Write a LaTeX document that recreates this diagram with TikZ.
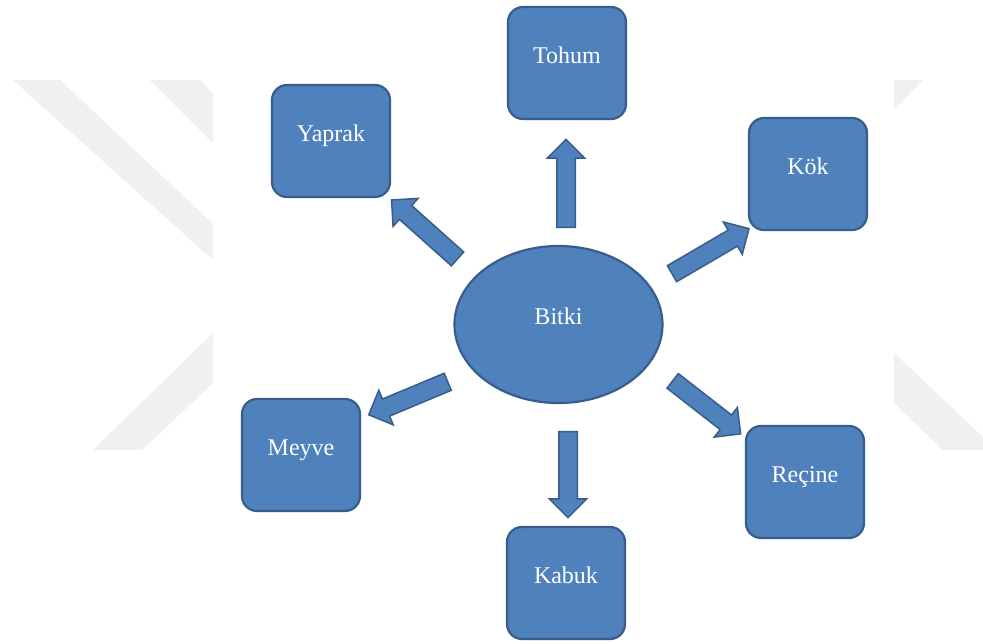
\documentclass[tikz,border=0pt]{standalone}
\usepackage{fontspec}
\setmainfont{Liberation Serif}
\usetikzlibrary{shapes.geometric,shapes.arrows,calc}
\definecolor{boxfill}{HTML}{4F81BD}
\definecolor{boxline}{HTML}{385D8A}
\definecolor{wmark}{HTML}{F0F0F0}
\tikzset{
  partbox/.style={draw=boxline, fill=boxfill, line width=2.2pt, rounded corners=15pt,
    minimum width=118pt, minimum height=112pt, inner sep=0pt,
    text=white, font=\fontsize{24}{29}\selectfont, text height=10pt, text depth=10pt},
  centre/.style={ellipse, draw=boxline, fill=boxfill, line width=2.2pt,
    minimum width=208pt, minimum height=157pt, inner sep=0pt,
    text=white, font=\fontsize{24}{29}\selectfont, text height=10pt, text depth=10pt},
  blockarr/.style={single arrow, draw=boxline, fill=boxfill, line width=1.5pt,
    inner sep=8.5pt, single arrow head extend=9.5pt, single arrow tip angle=90,
    single arrow head indent=0pt},
  wm/.style={fill=wmark, draw=none}
}
\newcommand\blkarrow[2]{%
  \path let \p1=($(#2)-(#1)$), \n1={atan2(\y1,\x1)}, \n2={veclen(\x1,\y1)} in
    node[blockarr, minimum height=\n2, rotate=\n1] at ($(#1)!0.5!(#2)$) {};}
\begin{document}
\begin{tikzpicture}[x=1pt,y=-1pt]
\useasboundingbox (0,0) rectangle (983,643);
\fill[white] (0,0) rectangle (983,643);
% watermark
\fill[wm] (13,80) -- (60,80) -- (213,224) -- (213,260) -- cycle;
\fill[wm] (150,80) -- (200,80) -- (213,93) -- (213,143) -- cycle;
\fill[wm] (93,450) -- (142,450) -- (213,383) -- (213,333) -- cycle;
\fill[wm] (894,80) -- (923,80) -- (894,110) -- cycle;
\fill[wm] (894,353) -- (983,437) -- (983,450) -- (943,450) -- (894,403) -- cycle;
% nodes
\node[centre] (bitki) at (558.5,324.5) {Bitki};
\node[partbox] (tohum) at (567,63) {Tohum};
\node[partbox] (yaprak) at (331,141) {Yaprak};
\node[partbox] (kok) at (808,174) {Kök};
\node[partbox] (meyve) at (301,455) {Meyve};
\node[partbox] (recine) at (805,482) {Reçine};
\node[partbox] (kabuk) at (566,583) {Kabuk};
% arrow ends
\coordinate (t1) at (566,232); \coordinate (h1) at (566,144);
\coordinate (t2) at (461,262); \coordinate (h2) at (395,203);
\coordinate (t3) at (668,276); \coordinate (h3) at (745,231);
\coordinate (t4) at (452,380); \coordinate (h4) at (373,413);
\coordinate (t5) at (568,427); \coordinate (h5) at (568,513);
\coordinate (t6) at (669,378); \coordinate (h6) at (737,431);
\blkarrow{t1}{h1}
\blkarrow{t2}{h2}
\blkarrow{t3}{h3}
\blkarrow{t4}{h4}
\blkarrow{t5}{h5}
\blkarrow{t6}{h6}
\end{tikzpicture}
\end{document}
